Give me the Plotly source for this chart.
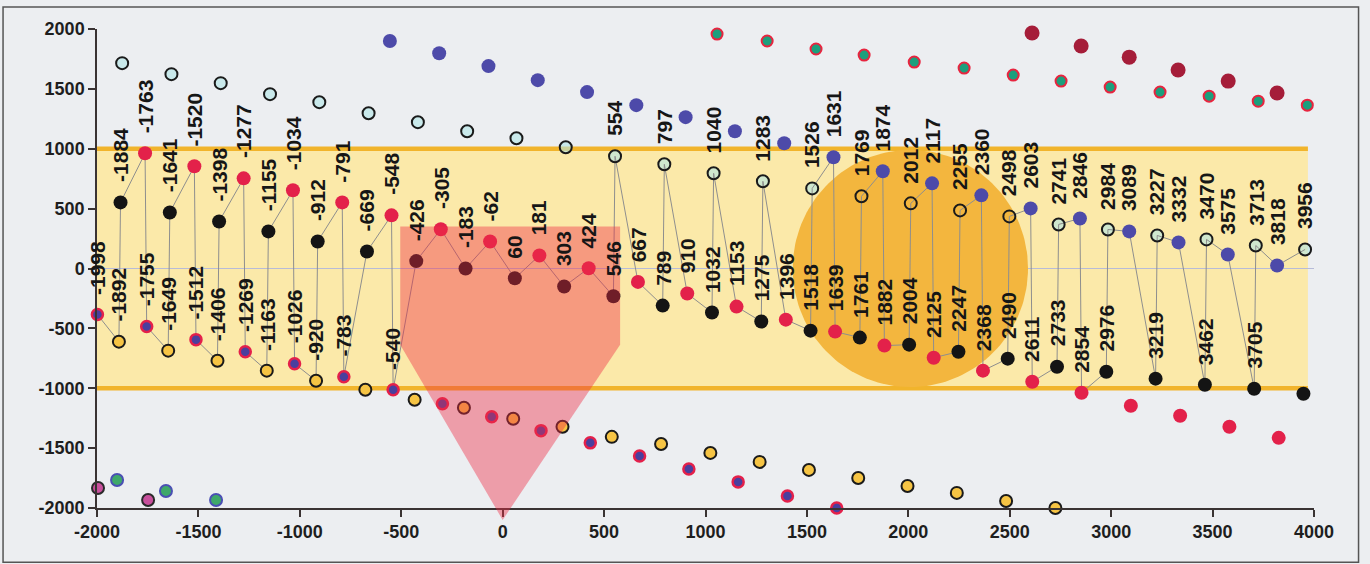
import numpy as np
import plotly.graph_objects as go

# ---------------- data ----------------
# Series C (black) - labelled points inside band, and outer point
c_x = [-1884, -1641, -1398, -1155, -912, -669, -426, -183, 60, 303, 546, 789, 1032, 1275,
       1518, 1761, 2004, 2247, 2490, 2733, 2976, 3219, 3462, 3705]
c_y = [552, 468, 393, 310, 226, 142, 62, 0, -82, -150, -232, -310, -368, -443,
       -519, -577, -636, -695, -753, -820, -862, -920, -971, -1004]
c_out_x = [3948]
c_out_y = [-1046]

# Series D (red)
d_x = [-1763, -1520, -1277, -1034, -791, -548, -305, -62, 181, 424, 667, 910, 1153, 1396,
       1639, 1882, 2125, 2368, 2611, 2854]
d_y = [962, 854, 753, 653, 552, 444, 328, 226, 109, 2, -112, -209, -318, -427,
       -527, -644, -745, -853, -946, -1038]
d_out_x = [3097, 3340, 3583, 3826]
d_out_y = [-1146, -1230, -1322, -1414]

# Series A (blue with red rim)
a_x = [-1998, -1755, -1512, -1269, -1026, -783, -540]
a_y = [-385, -485, -594, -695, -795, -904, -1013]
a_out_x = [-297, -54, 189, 432, 675, 918, 1161, 1404, 1647]
a_out_y = [-1130, -1238, -1354, -1456, -1565, -1674, -1782, -1900, -2000]

# Series B (yellow)
b_x = [-1892, -1649, -1406, -1163, -920]
b_y = [-611, -686, -770, -853, -937]
b_out_x = [-677, -434, -191, 52, 295, 538, 781, 1024, 1267, 1510, 1753, 1996, 2239, 2482, 2725]
b_out_y = [-1013, -1096, -1163, -1255, -1322, -1406, -1465, -1540, -1615, -1682, -1749,
           -1816, -1874, -1941, -2000]

# Series E (light open circles)
e_x = [554, 797, 1040, 1283, 1526, 1769, 2012, 2255, 2498, 2741, 2984, 3227, 3470, 3713, 3956]
e_y = [937, 870, 795, 728, 669, 603, 544, 485, 435, 368, 326, 276, 243, 192, 159]
e_out_x = [-1876, -1633, -1390, -1147, -904, -661, -418, -175, 68, 311]
e_out_y = [1715, 1623, 1548, 1456, 1389, 1297, 1222, 1146, 1088, 1012]

# Series F (blue)
f_x = [1631, 1874, 2117, 2360, 2603, 2846, 3089, 3332, 3575, 3818]
f_y = [929, 812, 711, 611, 502, 418, 310, 218, 117, 25]
f_out_x = [-556, -313, -70, 173, 416, 659, 902, 1145, 1388]
f_out_y = [1900, 1797, 1690, 1573, 1473, 1364, 1264, 1146, 1046]

# Series G (teal with red rim, top)
g_x = [1057, 1304, 1545, 1782, 2029, 2275, 2517, 2753, 2995, 3241, 3483, 3725, 3967]
g_y = [1958, 1900, 1833, 1782, 1724, 1674, 1615, 1565, 1515, 1473, 1439, 1397, 1364]

# Series H (dark red, top)
h_x = [2610, 2852, 3089, 3330, 3577, 3818]
h_y = [1966, 1858, 1765, 1657, 1565, 1466]

# Bottom-left
m_x = [-1995, -1748]
m_y = [-1833, -1933]
gr_x = [-1901, -1660, -1413]
gr_y = [-1766, -1858, -1933]

x_ticks = list(range(-2000, 4001, 500))
y_ticks = list(range(-2000, 2001, 500))

X_RANGE = [-2000, 4000]
Y_RANGE = [-2000, 2000]

# ---------------- decorations ----------------
BAND = dict(x0=-2000, x1=3970, y0=-1000, y1=1000)
CIRCLE = dict(cx=2010, cy=0, rx=580, ry=990)
PENT = [(-505, 351), (579, 351), (579, -636), (0, -2100), (-505, -636)]

BG = "#eceef1"
LABEL_FONT = dict(family="Liberation Sans Narrow, Liberation Sans, Arial", size=21,
                  color="#161616", weight="bold")
TICK_FONT = dict(family="Liberation Sans, Arial", size=18, color="#1e1e1e", weight="bold")


def to_paper(x, y):
    return ((x - X_RANGE[0]) / (X_RANGE[1] - X_RANGE[0]),
            (y - Y_RANGE[0]) / (Y_RANGE[1] - Y_RANGE[0]))


fig = go.Figure()

# light series fill (under the orange circle)
fig.add_trace(go.Scatter(x=e_x + e_out_x, y=e_y + e_out_y, mode="markers",
                         marker=dict(size=13, color="rgba(178,230,232,0.6)", line=dict(width=0)),
                         hoverinfo="skip", showlegend=False, cliponaxis=False))

# orange circle
t = np.linspace(0, 2 * np.pi, 181)
fig.add_trace(go.Scatter(x=CIRCLE["cx"] + CIRCLE["rx"] * np.cos(t),
                         y=CIRCLE["cy"] + CIRCLE["ry"] * np.sin(t),
                         mode="lines", fill="toself", fillcolor="#f3b63e",
                         line=dict(width=0), hoverinfo="skip", showlegend=False))

# connecting path through labelled points
px = a_x + b_x + c_x + d_x + e_x + f_x
py = a_y + b_y + c_y + d_y + e_y + f_y
order = np.argsort(px, kind="stable")
fig.add_trace(go.Scatter(x=[px[i] for i in order], y=[py[i] for i in order], mode="lines",
                         line=dict(color="#8e8e8e", width=1), hoverinfo="skip",
                         showlegend=False))


def add_markers(xs, ys, color, size=13, lcolor=None, lwidth=0):
    fig.add_trace(go.Scatter(x=xs, y=ys, mode="markers", cliponaxis=False, showlegend=False,
                             marker=dict(size=size, color=color,
                                         line=dict(color=lcolor or color, width=lwidth))))


add_markers(e_x + e_out_x, e_y + e_out_y, "rgba(0,0,0,0)", 12, "#1a1a1a", 2)
add_markers(b_x + b_out_x, b_y + b_out_y, "#f6c444", 12, "#1a1a1a", 2)
add_markers(a_x + a_out_x, a_y + a_out_y, "#4a3f9e", 11, "#e4204a", 2.5)
add_markers(c_x + c_out_x, c_y + c_out_y, "#141414", 14)
add_markers(d_x + d_out_x, d_y + d_out_y, "#e3214a", 14)
add_markers(f_x + f_out_x, f_y + f_out_y, "#4d4aa9", 14)
add_markers(g_x, g_y, "#1c9f7d", 11, "#e8243f", 2)
add_markers(h_x, h_y, "#a51d39", 15)
add_markers(m_x, m_y, "#c8509c", 12, "#2a2a2a", 2)
add_markers(gr_x, gr_y, "#3fa86a", 12, "#4a4fb3", 2)

# labels (value = x position)
annotations = []
for xs, ys in [(a_x, a_y), (b_x, b_y), (c_x, c_y), (d_x, d_y), (e_x, e_y), (f_x, f_y)]:
    for xv, yv in zip(xs, ys):
        annotations.append(dict(x=xv, y=yv, xref="x", yref="y", text=str(xv),
                                textangle=-90, showarrow=False, yanchor="bottom",
                                xanchor="center", yshift=18, font=LABEL_FONT))

pent_pts = [to_paper(x, y) for x, y in PENT]
pent_path = "M " + " L ".join(f"{x:.5f},{y:.5f}" for x, y in pent_pts) + " Z"

shapes = [
    dict(type="rect", xref="x", yref="y", layer="below", x0=BAND["x0"], x1=BAND["x1"],
         y0=BAND["y0"], y1=BAND["y1"], fillcolor="#fbe9a9", line=dict(width=0)),
    dict(type="line", xref="x", yref="y", layer="below", x0=BAND["x0"], x1=BAND["x1"],
         y0=BAND["y1"], y1=BAND["y1"], line=dict(color="#f1b42c", width=4.5)),
    dict(type="line", xref="x", yref="y", layer="below", x0=BAND["x0"], x1=BAND["x1"],
         y0=BAND["y0"], y1=BAND["y0"], line=dict(color="#f1b42c", width=4.5)),
    dict(type="path", xref="paper", yref="paper", layer="above", path=pent_path,
         fillcolor="rgba(238,45,70,0.42)", line=dict(width=0)),
    dict(type="rect", xref="paper", yref="paper", x0=-0.0772, x1=1.0366, y0=-0.113, y1=1.046,
         line=dict(color="#555555", width=1.5), fillcolor="rgba(0,0,0,0)", layer="above"),
]

fig.update_layout(
    width=1370, height=564,
    margin=dict(l=97, r=56, t=29, b=56),
    paper_bgcolor=BG, plot_bgcolor=BG,
    showlegend=False,
    shapes=shapes,
    annotations=annotations,
    xaxis=dict(range=X_RANGE, tickvals=x_ticks, ticktext=[str(v) for v in x_ticks],
               showgrid=False, zeroline=False, showline=True, linecolor="#3a3333",
               linewidth=1.5, ticks="outside", ticklen=7, tickwidth=1.5, tickcolor="#3a3333",
               tickfont=TICK_FONT),
    yaxis=dict(range=Y_RANGE, tickvals=y_ticks, ticktext=[str(v) for v in y_ticks],
               showgrid=False, zeroline=True, zerolinecolor="#b7bbd8", zerolinewidth=1,
               showline=True, linecolor="#3a3333", linewidth=1.5, ticks="outside",
               ticklen=7, tickwidth=1.5, tickcolor="#3a3333", tickfont=TICK_FONT),
)

fig.write_html("out.html", config={"displayModeBar": False},
               post_script="document.body.style.margin='0';document.body.style.overflow='hidden';"
                           f"document.body.style.background='{BG}';")
